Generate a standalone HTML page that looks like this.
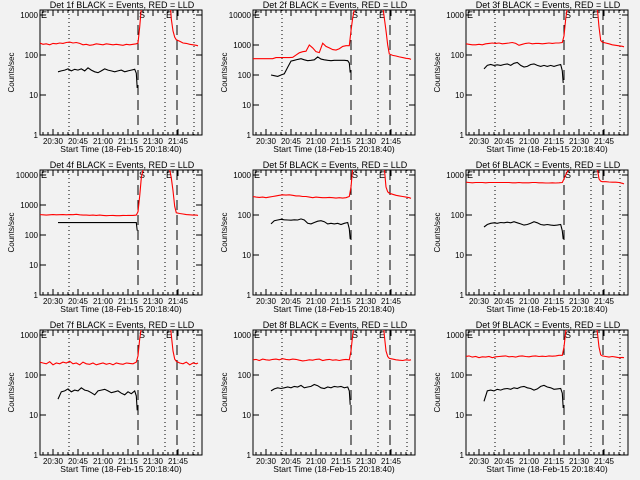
<!DOCTYPE html>
<html><head><meta charset="utf-8"><style>
html,body{margin:0;padding:0;background:#f2f2f2;}
svg{display:block;font-family:"Liberation Sans",sans-serif;}
</style></head><body>
<svg id="chart" width="640" height="480" viewBox="0 0 640 480"></svg>
<script>
const tRedPre = [22,24,26,28,30,32,34,36,38,40,42,44,46,48,50,52,54,56,58,60,62,64,66,68,70,72,74,76,78,80,81,82,83,84];
const tRedPost = [100,101,102,103,104,106,108,110,112,114,116,117];
const tBlack = [33,35,37,39,41,43,45,47,49,51,53,55,57,59,61,63,65,67,69,71,73,75,77,79,80,80.5];
const detNames = ["1f","2f","3f","4f","5f","6f","7f","8f","9f"];
const yTopDecades = [3,4,3,4,3,3,3,3,3];
const xTickMinutes = [30,45,60,75,90,105];
const xTickLabels = ["20:30","20:45","21:00","21:15","21:30","21:45"];
const dottedTimes = [39.6,97.2,114.6];
const dashedTimes = [81,104.4];

const red1Pre=[200,185,190,180,195,190,200,195,205,210,200,205,195,180,185,175,180,190,185,180,190,185,180,185,180,175,185,180,185,190,200,500,1500,3000];
const red1Post=[3000,800,400,280,240,220,200,195,185,180,175,170];
const black1=[38,40,42,45,40,44,42,45,40,48,42,38,36,40,45,42,40,38,40,42,38,40,42,44,35,15];
const red2Pre=[350,350,350,350,350,350,350,380,380,380,380,380,390,460,550,600,620,1000,800,600,560,1150,900,800,700,680,750,900,950,950,3000,8000,15000,20000];
const red2Post=[20000,8000,3000,1000,500,450,430,400,380,360,350,330];
const black2=[100,95,90,100,110,180,290,310,330,350,320,300,310,320,400,340,320,310,300,310,310,310,310,300,250,120];
const red3Pre=[190,185,180,180,185,180,190,195,200,195,200,190,195,200,205,195,175,185,195,200,190,195,195,190,195,200,195,200,200,205,300,800,1500,3000];
const red3Post=[3000,1500,500,230,210,200,190,180,175,170,165,160];
const black3=[45,55,58,55,57,55,58,60,55,62,65,55,50,52,58,60,55,52,55,52,55,52,55,58,40,20];
const red4Pre=[480,470,460,470,480,470,475,480,470,480,475,490,470,460,460,455,460,450,460,450,440,445,450,440,440,450,445,450,450,460,600,2000,8000,15000];
const red4Post=[15000,8000,3000,900,550,520,500,480,470,460,460,450];
const black4=[260,260,260,260,260,260,260,260,260,260,260,260,260,260,260,260,260,260,260,260,260,260,260,260,260,140];
const red5Pre=[290,280,275,280,270,280,290,300,310,320,315,320,310,300,300,290,290,280,270,280,275,270,270,275,270,265,270,265,270,290,500,1500,3000,5000];
const red5Post=[5000,1500,500,380,350,330,310,300,290,280,270,260];
const black5=[60,72,75,78,76,75,74,76,75,80,75,62,60,65,70,72,68,60,62,60,62,58,62,65,45,25];
const red6Pre=[660,650,640,650,650,650,640,650,650,650,650,650,650,650,640,640,650,640,640,640,650,650,640,640,630,630,640,630,640,650,800,1000,1200,1500];
const red6Post=[1500,1500,800,700,680,680,670,660,660,650,620,600];
const black6=[50,58,62,64,62,65,64,66,64,68,64,60,56,58,62,68,64,58,56,58,56,55,56,58,40,25];
const red7Pre=[210,200,190,215,180,200,190,210,200,220,190,200,180,210,190,185,200,180,190,200,185,195,180,200,190,185,200,195,190,210,300,800,1500,3000];
const red7Post=[3000,1000,400,250,220,200,190,210,180,200,190,200];
const black7=[25,38,40,45,38,42,40,48,42,40,36,32,40,42,44,40,36,38,40,35,32,38,34,40,30,13];
const red8Pre=[240,245,230,250,240,235,245,250,240,255,245,240,250,245,235,225,230,240,235,245,250,230,240,245,235,240,230,240,245,240,400,1000,2000,3000];
const red8Post=[3000,1000,400,290,260,250,240,235,230,240,235,240];
const black8=[40,45,48,46,48,50,48,52,50,55,48,50,52,58,54,48,46,50,48,52,50,52,48,50,40,18];
const red9Pre=[290,300,280,290,270,285,280,290,270,285,290,295,300,285,290,280,295,300,290,285,295,300,290,295,290,300,295,300,310,310,500,1200,2000,3000];
const red9Post=[3000,1200,500,320,300,290,280,290,280,270,275,270];
const black9=[22,40,42,40,44,42,45,46,44,48,46,50,52,48,46,42,45,52,55,50,48,44,45,46,35,15];

const redPreAll=[red1Pre,red2Pre,red3Pre,red4Pre,red5Pre,red6Pre,red7Pre,red8Pre,red9Pre];
const redPostAll=[red1Post,red2Post,red3Post,red4Post,red5Post,red6Post,red7Post,red8Post,red9Post];
const blackAll=[black1,black2,black3,black4,black5,black6,black7,black8,black9];

const NS="http://www.w3.org/2000/svg";
const svg=document.getElementById('chart');
const T0=22.2, T1=119.4;
function mk(tag,attrs,parent){const e=document.createElementNS(NS,tag);for(const k in attrs)e.setAttribute(k,attrs[k]);(parent||svg).appendChild(e);return e;}

for(let p=0;p<9;p++){
  const ox=(p%3)*213, oy=Math.floor(p/3)*160;
  const L=ox+40,R=ox+202,Tp=oy+10,B=oy+135;
  const decPx=(yTopDecades[p]===4)?30:40;
  const xs=t=>L+(t-T0)/(T1-T0)*(R-L);
  const ys=v=>B-Math.log10(v)*decPx;
  const g=mk('g',{});
  
  
  const cp=mk('clipPath',{id:'cp'+p},g);
  mk('rect',{x:L,y:Tp,width:R-L,height:B-Tp},cp);
  const title=mk('text',{x:(L+R)/2+1,y:oy+8,'font-size':'9','text-anchor':'middle',fill:'#000'},g);
  title.textContent='Det '+detNames[p]+' BLACK = Events, RED = LLD';
  
  
  const frame=mk('rect',{x:L,y:Tp,width:R-L,height:B-Tp,fill:'none',stroke:'#000','stroke-width':1},g);
  
  
  for(let d=0;d<=yTopDecades[p];d++){
    const v=Math.pow(10,d), y=ys(v);
    mk('line',{x1:L,x2:L+6,y1:y,y2:y,stroke:'#000'},g);
    mk('line',{x1:R-6,x2:R,y1:y,y2:y,stroke:'#000'},g);
    const tl=mk('text',{x:L-2,y:y+3,'font-size':'8','text-anchor':'end',fill:'#000'},g);
    tl.textContent=String(v);
    
    
  }
  for(let t=24;t<T1;t+=3){const x=xs(t);
    mk('line',{x1:x,x2:x,y1:B,y2:B-3,stroke:'#000'},g);
    mk('line',{x1:x,x2:x,y1:Tp,y2:Tp+3,stroke:'#000'},g);}
  xTickMinutes.forEach((t,i)=>{const x=xs(t);
    mk('line',{x1:x,x2:x,y1:B,y2:B-6,stroke:'#000'},g);
    mk('line',{x1:x,x2:x,y1:Tp,y2:Tp+6,stroke:'#000'},g);
    const xl=mk('text',{x:x,y:B+9,'font-size':'8','text-anchor':'middle',fill:'#000'},g);
    xl.textContent=xTickLabels[i];
    
    });
  const xt=mk('text',{x:(L+R)/2,y:B+17,'font-size':'8.5','text-anchor':'middle',fill:'#000'},g);
  xt.textContent='Start Time (18-Feb-15 20:18:40)';
  
  
  const yt=mk('text',{x:0,y:0,'font-size':'8','text-anchor':'middle',fill:'#000',transform:`translate(${ox+14},${(Tp+B)/2}) rotate(-90)`},g);
  yt.textContent='Counts/sec';
  
  
  dottedTimes.forEach(t=>{const x=xs(t);const l=mk('line',{x1:x,x2:x,y1:Tp,y2:B,stroke:'#000','stroke-dasharray':'1,3'},g);
    
    });
  dashedTimes.forEach(t=>{const x=xs(t);const l=mk('line',{x1:x,x2:x,y1:Tp,y2:B,stroke:'#000','stroke-dasharray':'10,5'},g);
    
    });
  [[L+1,'E'],[xs(dashedTimes[0])+1,'S'],[xs(dottedTimes[1])+1,'E']].forEach(a=>{
    const e=mk('text',{x:a[0],y:Tp+8,'font-size':'9',fill:'#000'},g);e.textContent=a[1];
    
    });
  const cg=mk('g',{'clip-path':`url(#cp${p})`},g);
  const line=(ts,vs,col,name)=>{const pts=ts.map((t,i)=>xs(t).toFixed(1)+','+ys(vs[i]).toFixed(1)).join(' ');
    const pl=mk('polyline',{points:pts,fill:'none',stroke:col,'stroke-width':1.1},cg);
    
    };
  line(tRedPre,redPreAll[p],'#ff0000','lld-red-pre');
  line(tRedPost,redPostAll[p],'#ff0000','lld-red-post');
  line(tBlack,blackAll[p],'#000000','events-black');
}
</script>
</body></html>
